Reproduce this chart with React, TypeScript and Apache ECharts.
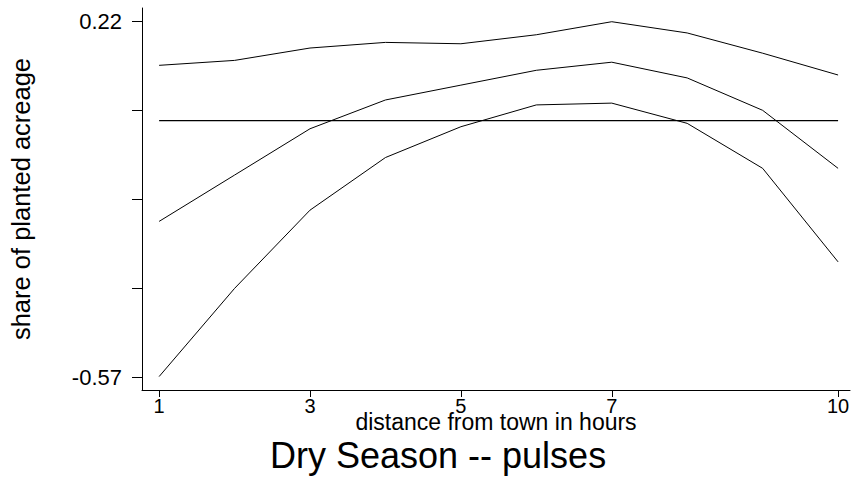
import React, { useEffect, useRef } from "react";
import * as echarts from "echarts";

// distance from town in hours
const hours = [1, 2, 3, 4, 5, 6, 7, 8, 9, 10];
// upper confidence band
const upperBand = [0.123, 0.134, 0.1615, 0.174, 0.171, 0.191, 0.22, 0.195, 0.15, 0.1015];
// point estimate
const estimate = [-0.224, -0.121, -0.018, 0.046, 0.079, 0.112, 0.13, 0.095, 0.023, -0.106];
// lower confidence band
const lowerBand = [-0.569, -0.373, -0.199, -0.082, -0.0135, 0.035, 0.039, -0.006, -0.106, -0.314];
// reference line
const referenceValue = 0;

const xTickValues = [1, 3, 5, 7, 10];
const yTickValues = [-0.57, -0.3725, -0.175, 0.0225, 0.22];
const yLabelValues = [-0.57, 0.22];

const FONT = "'Liberation Sans', Arial, Helvetica, sans-serif";

export default function App() {
  const ref = useRef<HTMLDivElement>(null);

  useEffect(() => {
    if (!ref.current) return;
    const chart = echarts.init(ref.current, undefined, { renderer: "svg" });
    const mk = (vals: number[]) => hours.map((h, i) => [h, vals[i]]);
    const lineStyle = { color: "#000", width: 1 };
    chart.setOption({
      animation: false,
      backgroundColor: "#fff",
      title: {
        text: "Dry Season -- pulses",
        left: 270,
        top: 437,
        padding: 0,
        textStyle: { fontSize: 36, fontWeight: "normal", color: "#000", fontFamily: FONT },
      },
      grid: { left: 142, right: 4, top: 8, bottom: 87, containLabel: false },
      xAxis: {
        type: "value",
        min: 0.773,
        max: 10.158,
        name: "distance from town in hours",
        nameLocation: "middle",
        nameGap: 20,
        nameMoveOverlap: false,
        nameTextStyle: { fontSize: 23, lineHeight: 23, color: "#000", fontFamily: FONT },
        axisLine: { show: true, onZero: false, lineStyle: { color: "#000", width: 1 } },
        axisTick: { show: true, inside: false, length: 7, customValues: xTickValues, lineStyle: { color: "#000" } },
        axisLabel: {
          show: true,
          customValues: xTickValues,
          margin: 6,
          fontSize: 20,
          color: "#000",
          fontFamily: FONT,
          formatter: (v: number) => String(v),
        },
        splitLine: { show: false },
      },
      yAxis: {
        type: "value",
        min: -0.5989,
        max: 0.2505,
        name: "share of planted acreage",
        nameLocation: "middle",
        nameGap: 108,
        nameMoveOverlap: false,
        nameTextStyle: { fontSize: 25.5, color: "#000", fontFamily: FONT },
        axisLine: { show: true, onZero: false, lineStyle: { color: "#000", width: 1 } },
        axisTick: { show: true, inside: false, length: 10, customValues: yTickValues, lineStyle: { color: "#000" } },
        axisLabel: {
          show: true,
          customValues: yLabelValues,
          margin: 20,
          fontSize: 22,
          color: "#000",
          fontFamily: FONT,
          formatter: (v: number) => v.toFixed(2),
        },
        splitLine: { show: false },
      },
      series: [
        { type: "line", data: mk(upperBand), symbol: "none", lineStyle, silent: true },
        { type: "line", data: mk(estimate), symbol: "none", lineStyle, silent: true },
        { type: "line", data: mk(lowerBand), symbol: "none", lineStyle, silent: true },
        {
          type: "line",
          data: mk(hours.map(() => referenceValue)),
          symbol: "none",
          lineStyle: { color: "#000", width: 1.3 },
          silent: true,
        },
      ],
    });
    return () => chart.dispose();
  }, []);

  return (
    <div
      ref={ref}
      style={{ position: "fixed", left: 0, top: 0, width: 854, height: 477, background: "#fff" }}
    />
  );
}
